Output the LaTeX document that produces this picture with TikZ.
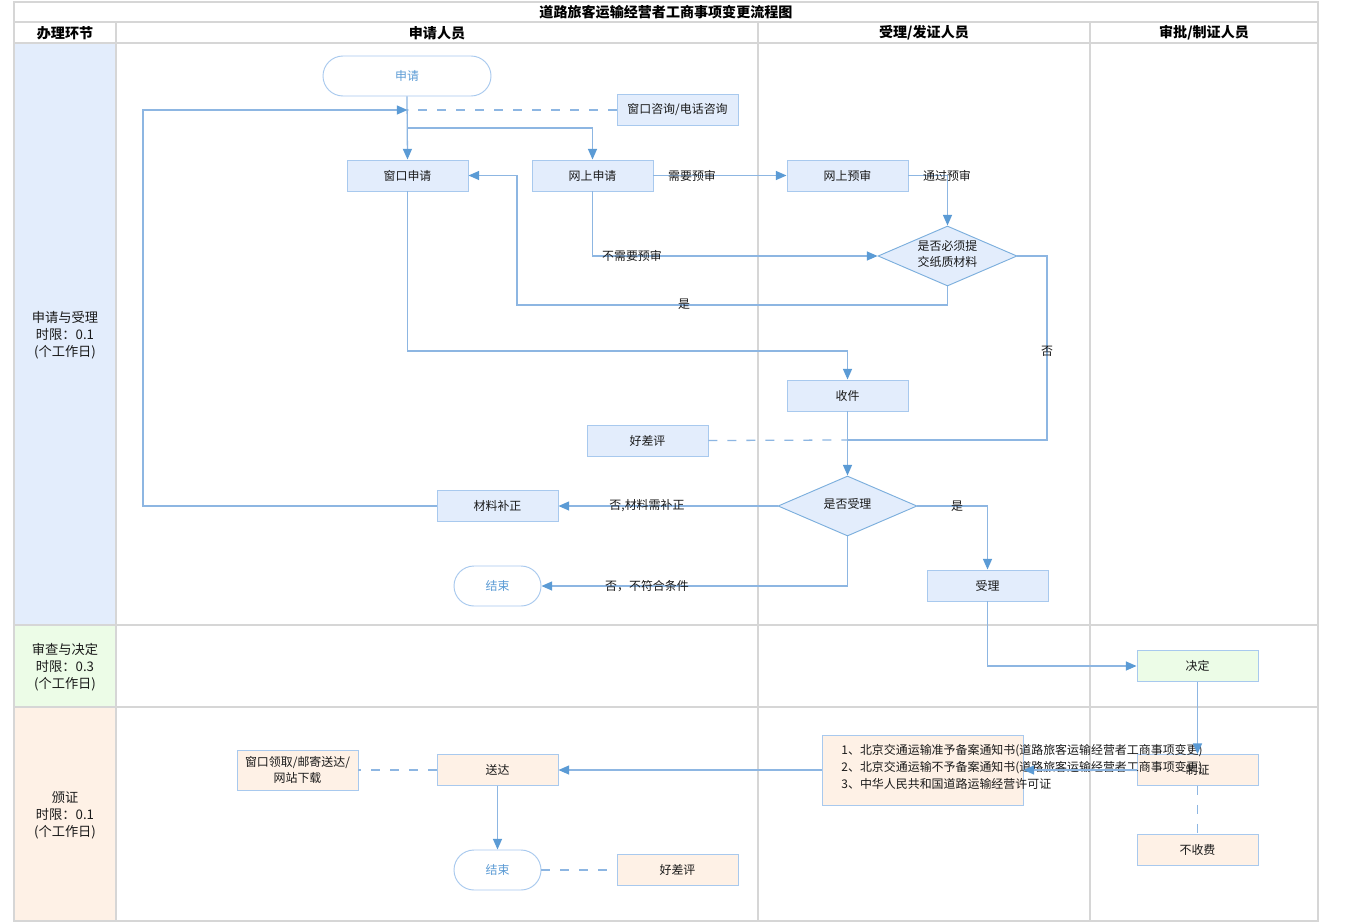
\documentclass[tikz,border=0pt]{standalone}
\usepackage{fontspec}
\setmainfont{Noto Sans CJK SC}
\usetikzlibrary{shapes.geometric,arrows.meta}
\definecolor{ln}{HTML}{8DB6E2}
\definecolor{ah}{HTML}{5B9BD5}
\definecolor{bf}{HTML}{E3EDFC}
\definecolor{bd}{HTML}{A8C9EE}
\definecolor{of}{HTML}{FEF1E6}
\definecolor{gf}{HTML}{ECFCE7}
\definecolor{gr}{HTML}{D6D6D6}
\definecolor{tx}{HTML}{1A1A1A}
\newcommand{\fsn}{\fontsize{10.2}{13.5}\selectfont}
\newcommand{\fsl}{\fontsize{11.3}{14.5}\selectfont}
\newcommand{\fsh}{\fontsize{12}{14.5}\selectfont}
\begin{document}
\begin{tikzpicture}[x=0.03cm,y=-0.03cm,
  box/.style={draw=bd, fill=bf, line width=0.8pt, minimum width=3.63cm, minimum height=0.93cm, inner sep=1pt, font=\fsn, text=tx},
  obox/.style={box, fill=of},
  gbox/.style={box, fill=gf},
  term/.style={draw=bd, fill=white, line width=0.8pt, rounded corners=0.6cm, minimum height=1.2cm, text=ah, font=\fsn},
  dia/.style={diamond, draw=ah!80, fill=bf, line width=0.8pt, minimum width=4.17cm, minimum height=1.8cm, inner sep=0pt},
  lbl/.style={font=\fsn, text=tx, inner sep=1pt},
  line/.style={draw=ln, line width=1.1pt},
  arr/.style={line, -{Triangle[length=0.32cm,width=0.27cm,color=ah]}},
  dline/.style={draw=ln, line width=1.1pt, dash pattern=on 0.27cm off 0.3cm},
  grid/.style={draw=gr, line width=1.4pt},
  hd/.style={font=\fsh\bfseries, text=black}
]
\useasboundingbox (0,0) rectangle (1350,923);
\fill[white] (0,0) rectangle (1350,923);
% lane fills
\fill[bf] (14,43) rectangle (116,625);
\fill[gf] (14,625) rectangle (116,707);
\fill[of] (14,707) rectangle (116,921);
% grid
\draw[grid] (14,2) rectangle (1318,921);
\draw[grid] (14,22) -- (1318,22);
\draw[grid] (14,43) -- (1318,43);
\draw[grid] (14,625) -- (1318,625);
\draw[grid] (14,707) -- (1318,707);
\draw[grid] (116,22) -- (116,921);
\draw[grid] (758,22) -- (758,921);
\draw[grid] (1090,22) -- (1090,921);
% headers
\node[hd] (title) at (666,12) {道路旅客运输经营者工商事项变更流程图};
\node[hd] (h1) at (65,33) {办理环节};
\node[hd] (h2) at (437,33) {申请人员};
\node[hd] (h3) at (924,33) {受理/发证人员};
\node[hd] (h4) at (1204,33) {审批/制证人员};
\node[font=\fsl, align=center, text=tx] (r1) at (65,335) {申请与受理\\时限：0.1\\(个工作日)};
\node[font=\fsl, align=center, text=tx] (r2) at (65,667) {审查与决定\\时限：0.3\\(个工作日)};
\node[font=\fsl, align=center, text=tx] (r3) at (65,815) {颁证\\时限：0.1\\(个工作日)};
% nodes
\node[term, minimum width=5.04cm] (apply) at (407,76) {申请};
\node[box] (consult) at (677.5,110) {窗口咨询/电话咨询};
\node[box] (win) at (407.5,175.5) {窗口申请};
\node[box] (net) at (592.5,175.5) {网上申请};
\node[box] (pre) at (847.5,175.5) {网上预审};
\node[dia] (d1) at (947.5,256) {};
\node[lbl, align=center] (d1t) at (947.5,254) {是否必须提\\交纸质材料};
\node[box] (recv) at (847.5,395.5) {收件};
\node[box] (eval1) at (647.5,440.5) {好差评};
\node[dia] (d2) at (847.5,506) {};
\node[lbl] (d2t) at (847.5,504) {是否受理};
\node[box] (supp) at (497.5,506) {材料补正};
\node[term, minimum width=2.61cm] (end1) at (497.5,586) {结束};
\node[box] (acc) at (987.5,585.5) {受理};
\node[gbox] (dec) at (1197.5,666) {决定};
\node[obox] (cert) at (1197.5,770) {制证};
\node[obox, minimum width=6.03cm, minimum height=2.1cm] (docs) at (922.5,770) {};
\node[lbl, anchor=west, align=left, font=\fontsize{10.2}{14.5}\selectfont] (docst) at (840,767) {1、北京交通运输准予备案通知书(道路旅客运输经营者工商事项变更)\\2、北京交通运输不予备案通知书(道路旅客运输经营者工商事项变更)\\3、中华人民共和国道路运输经营许可证};
\node[obox] (deliv) at (497.5,770) {送达};
\node[obox, minimum height=1.2cm, align=center] (pick) at (297.5,770) {窗口领取/邮寄送达/\\网站下载};
\node[term, minimum width=2.61cm] (end2) at (497.5,870) {结束};
\node[obox] (eval2) at (677.5,870) {好差评};
\node[obox] (free) at (1197.5,850) {不收费};
% coordinates
\coordinate (j1) at (407.5,110);
\coordinate (j2) at (407.5,128);
\coordinate (lb) at (143,506);
\coordinate (c2) at (517,305);
\coordinate (c3) at (1047,440);
\coordinate (m1) at (847.5,440);
\coordinate (c4) at (847.5,351);
% connectors
\draw[arr] (apply.south) -- (win.north);
\draw[arr] (j2) -| (net.north);
\draw[dline] (consult.west) -- (j1);
\draw[arr] (supp.west) -- (lb) |- (j1);
\draw[arr] (net.east) -- (pre.west);
\node[lbl] (l1) at (692,176) {需要预审};
\draw[arr] (pre.east) -| (d1.north);
\node[lbl] (l2) at (947,176) {通过预审};
\draw[arr] (net.south) |- (d1.west);
\node[lbl] (l3) at (632,256) {不需要预审};
\draw[arr] (d1.south) |- (c2) |- (win.east);
\node[lbl] (l4) at (684,304) {是};
\draw[line] (d1.east) -| (c3) -- (m1);
\node[lbl] (l5) at (1047,351) {否};
\draw[dline] (eval1.east) -- (m1);
\draw[arr] (win.south) |- (c4) -- (recv.north);
\draw[arr] (recv.south) -- (d2.north);
\draw[arr] (d2.west) -- (supp.east);
\node[lbl] (l6) at (647,506) {否,材料需补正};
\draw[arr] (d2.south) |- (end1.east);
\node[lbl] (l7) at (647,586) {否，不符合条件};
\draw[arr] (d2.east) -| (acc.north);
\node[lbl] (l8) at (957,506) {是};
\draw[arr] (acc.south) |- (dec.west);
\draw[arr] (dec.south) -- (cert.north);
\draw[arr] (cert.west) -- (docs.east);
\draw[arr] (docs.west) -- (deliv.east);
\draw[dline] (deliv.west) -- (pick.east);
\draw[arr] (deliv.south) -- (end2.north);
\draw[dline] (end2.east) -- (eval2.west);
\draw[dline] (cert.south) -- (free.north);
\end{tikzpicture}
\end{document}
